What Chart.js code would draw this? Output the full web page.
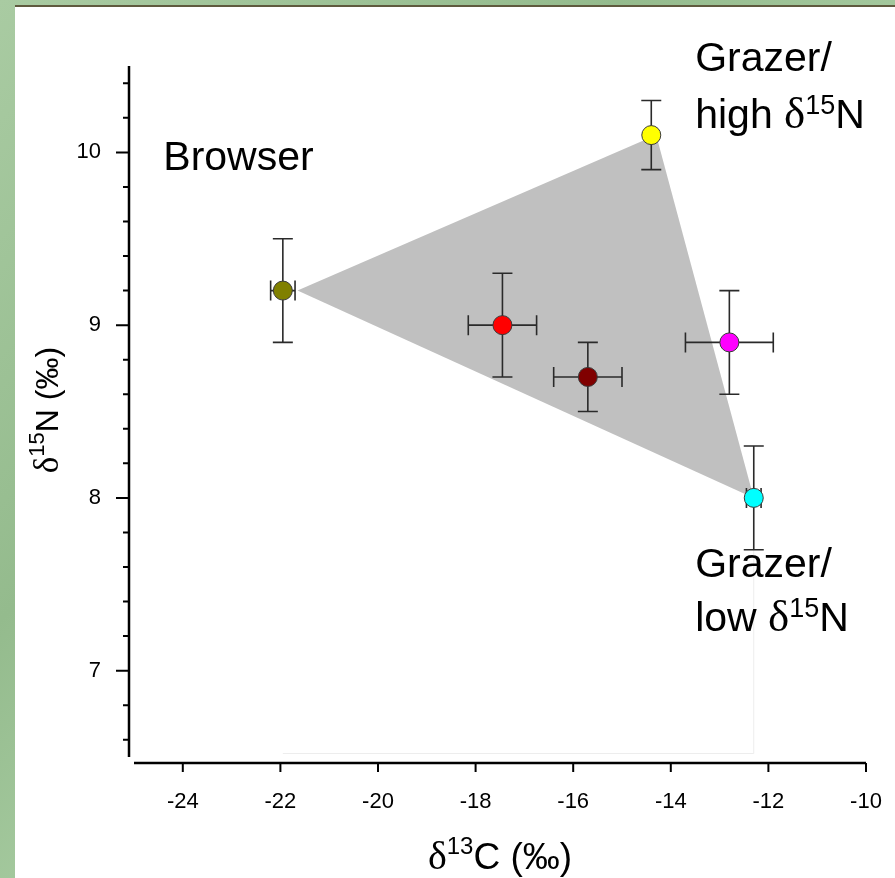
<!DOCTYPE html>
<html>
<head>
<meta charset="utf-8">
<title>Isotope niche plot</title>
<script src="https://cdn.jsdelivr.net/npm/chart.js@4.4.0/dist/chart.umd.min.js"></script>
<style>
  html, body { margin: 0; padding: 0; }
  body {
    width: 895px; height: 878px; overflow: hidden; position: relative;
    background: linear-gradient(135deg, #a9cba2 0%, #94bb8d 35%, #acd0a6 60%, #9cc295 100%);
  }
  #panel {
    position: absolute; left: 15px; top: 5px; right: 0; bottom: 0;
    background: #fff; border-top: 2px solid #5f5a3e;
  }
  #wrap { position: absolute; left: 0; top: 0; width: 895px; height: 878px; }
</style>
</head>
<body>
<div id="panel"></div>
<div id="wrap"><canvas id="niche" width="895" height="878"></canvas></div>
<script>
// sample means with 1 SD
const sampleColors = ['#808000', '#ff0000', '#800000', '#ffff00', '#ff00ff', '#00ffff'];
const d13C = [-21.95, -17.45, -15.7, -14.4, -12.8, -12.3];
const d15N = [9.2, 9.0, 8.7, 10.1, 8.9, 8.0];
const d13CErr = [0.25, 0.7, 0.7, 0, 0.9, 0.15];
const d15NErr = [0.3, 0.3, 0.2, 0.2, 0.3, 0.3];

// end-member triangle (browser, high and low grazer)
const hullC = [-21.65, -14.3, -12.3, -21.65];
const hullN = [9.2, 10.1, 8.0, 9.2];

// faint drop lines under the low grazer
const dropC = [-21.95, -12.3, -12.3];
const dropN = [6.52, 6.52, 7.7];

const xTicks = [-24, -22, -20, -18, -16, -14, -12, -10];
const yTicks = [7, 8, 9, 10];
const yMinorTicks = [6.6, 6.8, 7.2, 7.4, 7.6, 7.8, 8.2, 8.4, 8.6, 8.8, 9.2, 9.4, 9.6, 9.8, 10.2, 10.4];

const SANS = '"Liberation Sans", Arial, sans-serif';
const SERIF = '"Liberation Serif", "Times New Roman", serif';

const zip = (xs, ys) => xs.map((x, i) => ({ x: x, y: ys[i] }));

// draws a run of [text, font, dy] pieces starting at x
function drawRuns(ctx, runs, x, y) {
  let cx = x;
  runs.forEach(([text, font, dy]) => {
    ctx.font = font;
    ctx.fillText(text, cx, y + (dy || 0));
    cx += ctx.measureText(text).width;
  });
  return cx - x;
}
function runsWidth(ctx, runs) {
  let w = 0;
  runs.forEach(([text, font]) => { ctx.font = font; w += ctx.measureText(text).width; });
  return w;
}

const errorBars = {
  id: 'errorBars',
  beforeDatasetDraw(chart, args) {
    if (args.index !== 2) return;
    const { ctx, scales: { x, y } } = chart;
    ctx.save();
    ctx.strokeStyle = '#2a2a2a';
    ctx.lineWidth = 1.6;
    const cap = 10;
    d13C.forEach((c, i) => {
      const px = x.getPixelForValue(c), py = y.getPixelForValue(d15N[i]);
      if (d15NErr[i] > 0) {
        const top = y.getPixelForValue(d15N[i] + d15NErr[i]);
        const bot = y.getPixelForValue(d15N[i] - d15NErr[i]);
        ctx.beginPath();
        ctx.moveTo(px, top); ctx.lineTo(px, bot);
        ctx.moveTo(px - cap, top); ctx.lineTo(px + cap, top);
        ctx.moveTo(px - cap, bot); ctx.lineTo(px + cap, bot);
        ctx.stroke();
      }
      if (d13CErr[i] > 0) {
        const l = x.getPixelForValue(c - d13CErr[i]);
        const r = x.getPixelForValue(c + d13CErr[i]);
        ctx.beginPath();
        ctx.moveTo(l, py); ctx.lineTo(r, py);
        ctx.moveTo(l, py - cap); ctx.lineTo(l, py + cap);
        ctx.moveTo(r, py - cap); ctx.lineTo(r, py + cap);
        ctx.stroke();
      }
    });
    ctx.restore();
  }
};

// offset axis lines, tick marks, titles and the group labels
const frame = {
  id: 'frame',
  afterDraw(chart) {
    const { ctx, chartArea: a, scales: { x, y } } = chart;
    const ax = a.left - 5, ay = a.bottom + 6;
    ctx.save();
    ctx.strokeStyle = '#000';
    ctx.lineWidth = 2.5;
    ctx.beginPath();
    ctx.moveTo(ax, y.getPixelForValue(y.max));
    ctx.lineTo(ax, y.getPixelForValue(y.min));
    ctx.moveTo(x.getPixelForValue(x.min), ay);
    ctx.lineTo(x.getPixelForValue(x.max), ay);
    ctx.stroke();
    ctx.lineWidth = 2;
    ctx.beginPath();
    yTicks.forEach(v => { const p = y.getPixelForValue(v); ctx.moveTo(ax - 13, p); ctx.lineTo(ax, p); });
    yMinorTicks.forEach(v => { const p = y.getPixelForValue(v); ctx.moveTo(ax - 6, p); ctx.lineTo(ax, p); });
    xTicks.forEach(v => { const p = x.getPixelForValue(v); ctx.moveTo(p, ay); ctx.lineTo(p, ay + 9); });
    ctx.stroke();

    ctx.fillStyle = '#000';
    ctx.textBaseline = 'alphabetic';
    ctx.textAlign = 'left';

    // x title
    const xt = [['\u03b4', '40px ' + SERIF, 0], ['13', '24px ' + SANS, -15], ['C (\u2030)', '37px ' + SANS, 0]];
    drawRuns(ctx, xt, 500 - runsWidth(ctx, xt) / 2, 869);

    // y title
    const yt = [['\u03b4', '35px ' + SERIF, 0], ['15', '22px ' + SANS, -14], ['N (\u2030)', '32px ' + SANS, 0]];
    ctx.save();
    ctx.translate(58, 410);
    ctx.rotate(-Math.PI / 2);
    drawRuns(ctx, yt, -runsWidth(ctx, yt) / 2, 0);
    ctx.restore();

    const big = '41px ' + SANS, sup = '27px ' + SANS, greek = '45px ' + SERIF;
    const at = (c, n) => [x.getPixelForValue(c), y.getPixelForValue(n)];
    let p = at(-24.4, 9.9);
    drawRuns(ctx, [['Browser', big]], p[0], p[1]);
    p = at(-13.5, 10.47);
    drawRuns(ctx, [['Grazer/', big]], p[0], p[1]);
    p = at(-13.5, 10.14);
    drawRuns(ctx, [['high ', big], ['\u03b4', greek], ['15', sup, -14], ['N', big]], p[0], p[1]);
    p = at(-13.5, 7.54);
    drawRuns(ctx, [['Grazer/', big]], p[0], p[1]);
    p = at(-13.5, 7.23);
    drawRuns(ctx, [['low ', big], ['\u03b4', greek], ['15', sup, -14], ['N', big]], p[0], p[1]);
    ctx.restore();
  }
};

new Chart(document.getElementById('niche'), {
  type: 'scatter',
  data: {
    datasets: [
      {
        label: 'drop',
        data: zip(dropC, dropN),
        showLine: true,
        borderColor: '#ededed',
        borderWidth: 1,
        pointRadius: 0,
        fill: false,
        order: 3
      },
      {
        label: 'niche',
        data: zip(hullC, hullN),
        showLine: true,
        borderWidth: 0,
        borderColor: 'rgba(0,0,0,0)',
        backgroundColor: '#c0c0c0',
        pointRadius: 0,
        fill: 'shape',
        tension: 0,
        order: 2
      },
      {
        label: 'samples',
        data: zip(d13C, d15N),
        pointRadius: 9.5,
        pointBackgroundColor: sampleColors,
        pointBorderColor: '#3a3a3a',
        pointBorderWidth: 1,
        order: 1
      }
    ]
  },
  options: {
    responsive: false,
    animation: false,
    events: [],
    layout: { padding: { top: 66, right: 29, left: 0, bottom: 0 } },
    plugins: { legend: { display: false }, tooltip: { enabled: false } },
    scales: {
      x: {
        type: 'linear',
        min: -25,
        max: -10,
        grid: { display: false, drawTicks: false },
        border: { display: false },
        afterBuildTicks: s => { s.ticks = xTicks.map(v => ({ value: v })); },
        afterFit: s => { s.height = 878 - 757; s.paddingLeft = 0; s.paddingRight = 0; },
        ticks: { color: '#000', padding: 32, maxRotation: 0, font: { family: SANS, size: 22 } }
      },
      y: {
        type: 'linear',
        min: 6.5,
        max: 10.5,
        grid: { display: false, drawTicks: false },
        border: { display: false },
        afterBuildTicks: s => { s.ticks = yTicks.map(v => ({ value: v })); },
        afterFit: s => { s.width = 134; s.paddingTop = 0; s.paddingBottom = 0; },
        ticks: { color: '#000', padding: 33, font: { family: SANS, size: 22 } }
      }
    }
  },
  plugins: [errorBars, frame]
});
</script>
</body>
</html>
